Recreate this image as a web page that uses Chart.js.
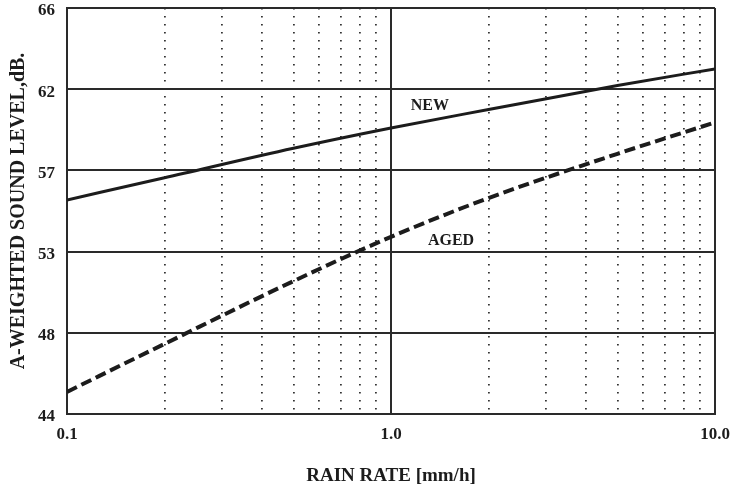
<!DOCTYPE html>
<html>
<head>
<meta charset="utf-8">
<script src="https://cdn.jsdelivr.net/npm/chart.js@4/dist/chart.umd.min.js"></script>
<style>
  html, body { margin: 0; padding: 0; background: #fff; }
  #wrap { width: 733px; height: 500px; }
</style>
</head>
<body>
<div id="wrap"><canvas id="chart" width="733" height="500"></canvas></div>
<script>
// rain rate [mm/h], read at these points
const rainRates = [0.1, 0.2, 0.5, 1, 2, 5, 10];
const newLevels = [55.6, 56.8, 58.4, 59.5, 60.5, 61.8, 62.7];
const agedLevels = [45.2, 47.8, 51.2, 53.6, 55.7, 58.1, 59.8];

// axis ticks
const xTickValues = [0.1, 0.2, 0.3, 0.4, 0.5, 0.6, 0.7, 0.8, 0.9, 1, 2, 3, 4, 5, 6, 7, 8, 9, 10];
const xMajorValues = [0.1, 1, 10];
const xMajorLabels = ['0.1', '1.0', '10.0'];
const yTickValues = [44, 48.4, 52.8, 57.2, 61.6, 66];
const yTickLabels = ['44', '48', '53', '57', '62', '66'];

const curveLabels = [
  { text: 'NEW', x: 1.15, y: 60.7 },
  { text: 'AGED', x: 1.3, y: 53.4 },
];

const ink = '#1c1c1c';
const serif = "'Liberation Serif', 'DejaVu Serif', serif";

function isMajorX(v) {
  return xMajorValues.some((m) => Math.abs(m - v) < 1e-9);
}

const curveLabelPlugin = {
  id: 'curveLabels',
  afterDatasetsDraw(chart) {
    const { ctx, scales } = chart;
    ctx.save();
    ctx.fillStyle = ink;
    ctx.font = `bold 16px ${serif}`;
    ctx.textAlign = 'left';
    ctx.textBaseline = 'middle';
    curveLabels.forEach((l) => {
      ctx.fillText(l.text, scales.x.getPixelForValue(l.x), scales.y.getPixelForValue(l.y));
    });
    ctx.restore();
  },
};

new Chart(document.getElementById('chart'), {
  type: 'line',
  data: {
    datasets: [
      {
        label: 'NEW',
        data: rainRates.map((x, i) => ({ x, y: newLevels[i] })),
        borderColor: ink,
        borderWidth: 3,
        pointRadius: 0,
        cubicInterpolationMode: 'monotone',
      },
      {
        label: 'AGED',
        data: rainRates.map((x, i) => ({ x, y: agedLevels[i] })),
        borderColor: ink,
        borderWidth: 4,
        borderDash: [11, 5],
        pointRadius: 0,
        cubicInterpolationMode: 'monotone',
      },
    ],
  },
  options: {
    responsive: false,
    devicePixelRatio: 1,
    animation: false,
    layout: { padding: { top: 8, right: 18, left: 0, bottom: 0 } },
    plugins: { legend: { display: false }, tooltip: { enabled: false } },
    scales: {
      x: {
        type: 'logarithmic',
        min: 0.1,
        max: 10,
        afterBuildTicks: (scale) => {
          scale.ticks = xTickValues.map((v) => ({ value: v, major: isMajorX(v) }));
        },
        afterFit: (scale) => {
          scale.height = 86;
          scale.paddingLeft = 0;
          scale.paddingRight = 0;
        },
        ticks: {
          autoSkip: false,
          maxRotation: 0,
          padding: 10,
          color: ink,
          font: { family: serif, size: 17, weight: 'bold' },
          callback: (v) => {
            const i = xMajorValues.findIndex((m) => Math.abs(m - v) < 1e-9);
            return i >= 0 ? xMajorLabels[i] : '';
          },
        },
        grid: {
          drawTicks: false,
          color: (c) => (c.tick && c.tick.major ? '#2a2a2a' : '#333'),
          lineWidth: (c) => (c.tick && c.tick.major ? 2 : 1.8),
        },
        border: {
          color: '#2a2a2a',
          width: 2,
          dash: (c) => (c.type === 'tick' && !isMajorX(c.tick.value) ? [1.6, 6.4] : []),
        },
        title: {
          display: true,
          text: 'RAIN RATE [mm/h]',
          color: ink,
          font: { family: serif, size: 19, weight: 'bold' },
          padding: { top: 0, bottom: 13 },
        },
      },
      y: {
        min: 44,
        max: 66,
        afterBuildTicks: (scale) => {
          scale.ticks = yTickValues.map((v) => ({ value: v }));
        },
        afterFit: (scale) => {
          scale.width = 67;
          scale.paddingTop = 0;
          scale.paddingBottom = 0;
        },
        ticks: {
          padding: 12,
          labelOffset: 3,
          color: ink,
          font: { family: serif, size: 17, weight: 'bold' },
          callback: (v, i) => yTickLabels[i],
        },
        grid: { drawTicks: false, color: '#2a2a2a', lineWidth: 2 },
        border: { color: '#2a2a2a', width: 2 },
        title: {
          display: true,
          text: 'A-WEIGHTED SOUND LEVEL,dB.',
          color: ink,
          font: { family: serif, size: 20, weight: 'bold' },
          padding: { top: 7, bottom: 0 },
        },
      },
    },
  },
  plugins: [curveLabelPlugin],
});
</script>
</body>
</html>
